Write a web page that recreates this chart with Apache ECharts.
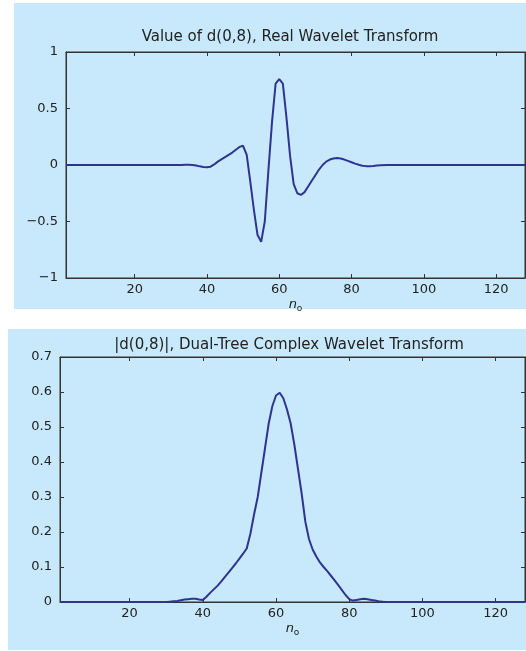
<!DOCTYPE html>
<html>
<head>
<meta charset="utf-8">
<script src="https://cdn.jsdelivr.net/npm/echarts@6/dist/echarts.min.js"></script>
<style>
  html, body { margin: 0; padding: 0; background: #fff; }
  #main { width: 526px; height: 651px; }
</style>
</head>
<body>
<div id="main"></div>
<script>
// sample index n_o and value of d(0,8), real wavelet transform
var realN = [1, 33, 34, 35, 36, 37, 38, 39, 40, 41, 42, 43, 44, 45, 46, 47, 48, 49, 50, 51, 52, 53, 54, 55, 56, 57, 58, 59, 60, 61, 62, 63, 64, 65, 66, 67, 68, 69, 70, 71, 72, 73, 74, 75, 76, 77, 78, 79, 80, 81, 82, 83, 84, 85, 86, 87, 88, 90, 128];
var realVal = [0, 0, 0.003, 0.002, 0, -0.005, -0.012, -0.018, -0.02, -0.015, 0.005, 0.03, 0.05, 0.07, 0.09, 0.11, 0.135, 0.16, 0.17, 0.09, -0.15, -0.4, -0.62, -0.68, -0.5, -0.05, 0.38, 0.72, 0.76, 0.72, 0.42, 0.08, -0.17, -0.25, -0.265, -0.24, -0.19, -0.14, -0.09, -0.04, 0, 0.03, 0.048, 0.058, 0.062, 0.058, 0.048, 0.036, 0.024, 0.012, 0.002, -0.006, -0.01, -0.01, -0.008, -0.005, -0.002, 0, 0];

// |d(0,8)|, dual-tree complex wavelet transform
var absN = [1, 30, 31, 32, 33, 34, 35, 36, 37, 38, 39, 40, 41, 42, 43, 44, 45, 46, 47, 48, 49, 50, 51, 52, 53, 54, 55, 56, 57, 58, 59, 60, 61, 62, 63, 64, 65, 66, 67, 68, 69, 70, 71, 72, 73, 74, 75, 76, 77, 78, 79, 80, 81, 82, 83, 84, 85, 86, 87, 88, 89, 90, 128];
var absVal = [0, 0, 0.001, 0.002, 0.003, 0.005, 0.007, 0.008, 0.009, 0.009, 0.007, 0.006, 0.015, 0.026, 0.036, 0.046, 0.058, 0.071, 0.084, 0.097, 0.11, 0.124, 0.138, 0.153, 0.195, 0.25, 0.3, 0.37, 0.44, 0.51, 0.56, 0.59, 0.598, 0.582, 0.55, 0.51, 0.45, 0.38, 0.31, 0.23, 0.18, 0.15, 0.13, 0.113, 0.1, 0.088, 0.075, 0.062, 0.048, 0.034, 0.02, 0.008, 0.004, 0.006, 0.008, 0.009, 0.008, 0.006, 0.004, 0.002, 0.001, 0, 0];

var xTicks = [20, 40, 60, 80, 100, 120];
var titleTop = 'Value of d(0,8), Real Wavelet Transform';
var titleBottom = '|d(0,8)|, Dual-Tree Complex Wavelet Transform';

var font = 'DejaVu Sans';
var axisColor = '#333';
var lineColor = '#2e3490';
var tickFont = 13;

function pairs(xs, ys) {
  return xs.map(function (x, i) { return [x, ys[i]]; });
}

function xAxes(gi) {
  return [
    {
      type: 'value', gridIndex: gi, min: 1, max: 128, position: 'bottom',
      name: '{i|n}{s|o}', nameLocation: 'middle', nameGap: 19,
      nameTextStyle: {
        rich: {
          i: { fontFamily: font, fontStyle: 'italic', fontSize: 13, color: '#222' },
          s: { fontFamily: font, fontSize: 9, color: '#222', padding: [7, 0, 0, 0] }
        }
      },
      axisLine: { show: true, onZero: false, lineStyle: { color: axisColor } },
      axisTick: { show: true, inside: true, length: 4, customValues: xTicks, lineStyle: { color: axisColor } },
      axisLabel: { customValues: xTicks, margin: 5, fontFamily: font, fontSize: tickFont, color: '#222' },
      splitLine: { show: false }
    },
    {
      type: 'value', gridIndex: gi, min: 1, max: 128, position: 'top',
      axisLine: { show: true, onZero: false, lineStyle: { color: axisColor } },
      axisTick: { show: true, inside: true, length: 4, customValues: xTicks, lineStyle: { color: axisColor } },
      axisLabel: { show: false },
      splitLine: { show: false }
    }
  ];
}

function yAxes(gi, min, max, step, fmt) {
  return [
    {
      type: 'value', gridIndex: gi, min: min, max: max, interval: step, position: 'left',
      axisLine: { show: true, onZero: false, lineStyle: { color: axisColor } },
      axisTick: { show: true, inside: true, length: 4, lineStyle: { color: axisColor } },
      axisLabel: { margin: 8, fontFamily: font, fontSize: tickFont, color: '#222', formatter: fmt },
      splitLine: { show: false }
    },
    {
      type: 'value', gridIndex: gi, min: min, max: max, interval: step, position: 'right',
      axisLine: { show: true, onZero: false, lineStyle: { color: axisColor } },
      axisTick: { show: true, inside: true, length: 4, lineStyle: { color: axisColor } },
      axisLabel: { show: false },
      splitLine: { show: false }
    }
  ];
}

var chart = echarts.init(document.getElementById('main'));

var option = {
  animation: false,
  backgroundColor: '#ffffff',
  graphic: [
    { type: 'rect', z: -10, silent: true, shape: { x: 14, y: 3, width: 512, height: 306 }, style: { fill: '#c8e9fb' } },
    { type: 'rect', z: -10, silent: true, shape: { x: 8, y: 329, width: 518, height: 321 }, style: { fill: '#c8e9fb' } },
    { type: 'text', x: 290, y: 37, style: { text: titleTop, font: '15px "DejaVu Sans"', fill: '#222', textAlign: 'center', textVerticalAlign: 'middle' } },
    { type: 'text', x: 289, y: 345, style: { text: titleBottom, font: '15px "DejaVu Sans"', fill: '#222', textAlign: 'center', textVerticalAlign: 'middle' } }
  ],
  grid: [
    { left: 66, top: 52, width: 459, height: 226, show: true, borderColor: axisColor, borderWidth: 1, backgroundColor: 'transparent' },
    { left: 60, top: 357, width: 465, height: 245, show: true, borderColor: axisColor, borderWidth: 1, backgroundColor: 'transparent' }
  ],
  xAxis: xAxes(0).concat(xAxes(1)),
  yAxis: yAxes(0, -1, 1, 0.5, function (v) {
    if (v === 0) return '0';
    return (v < 0 ? '\u2212' : '') + String(Math.abs(v));
  }).concat(yAxes(1, 0, 0.7, 0.1, function (v) {
    return v === 0 ? '0' : v.toFixed(1);
  })),
  series: [
    {
      type: 'line', xAxisIndex: 0, yAxisIndex: 0, data: pairs(realN, realVal),
      showSymbol: false, lineStyle: { color: lineColor, width: 2 }
    },
    {
      type: 'line', xAxisIndex: 2, yAxisIndex: 2, data: pairs(absN, absVal),
      showSymbol: false, lineStyle: { color: lineColor, width: 2 }
    }
  ]
};

chart.setOption(option);
</script>
</body>
</html>
